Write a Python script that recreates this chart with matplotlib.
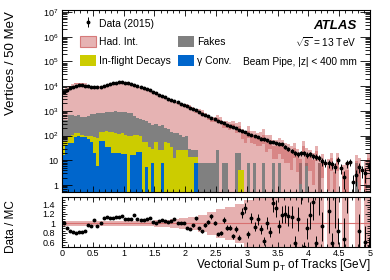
import numpy as np
import matplotlib
matplotlib.use("Agg")
import matplotlib.pyplot as plt
from matplotlib.patches import Patch
from matplotlib.ticker import (MultipleLocator, FixedLocator, LogLocator,
                               FuncFormatter, NullFormatter)

plt.rcParams['font.family'] = 'Liberation Sans'
plt.rcParams['mathtext.fontset'] = 'custom'
plt.rcParams['mathtext.rm'] = 'Liberation Sans'
plt.rcParams['mathtext.it'] = 'Liberation Sans:italic'
plt.rcParams['mathtext.bf'] = 'Liberation Sans:bold'

# 100 bins of 50 MeV, 0 - 5 GeV
bin_edges = np.round(np.arange(0, 5.0001, 0.05), 3)

data = [5900, 7100, 8300, 9300, 10200, 10700, 10700, 10500, 10000, 9600,
        9300, 9100, 9300, 10200, 11500, 12600, 13500, 14100, 14500, 14500,
        14100, 13500, 12600, 11500, 10500, 9600, 8500, 7600, 6800, 5900,
        5200, 4600, 4100, 3550, 3100, 2750, 2450, 2200, 1950, 1780,
        1550, 1350, 1170, 1050, 890, 780, 690, 600, 525, 470,
        400, 355, 315, 275, 245, 215, 195, 175, 155, 138,
        120, 110, 96, 90, 76, 70, 64, 57, 56, 50,
        47, 45, 36, 30, 24, 19, 18, 20, 19, 17,
        18, 15, 14, 13, 9, 8, 7.6, 7, 5.5, 10,
        5, 2.2, 7.6, 8.7, 1.3, 2.5, 5.5, 4, 3, 6]

mc_total = [5840, 7800, 9900, 11300, 12900, 13000, 13200, 12400, 10400, 10100,
            8600, 9600, 9300, 9100, 10100, 11250, 12050, 12500, 12800, 12600,
            12800, 12300, 11600, 9800, 9550, 8970, 7940, 6970, 6070, 5670,
            5150, 4340, 3800, 3350, 2980, 2640, 2230, 2180, 1930, 1760,
            1720, 1520, 1220, 946, 990, 930, 710, 577, 457, 465,
            520, 444, 292, 302, 269, 295, 219, 250, 127, 104,
            156, 99, 103, 83, 87, 111, 63, 69, 39, 38,
            50, 38, 30, 26, 21, 32, 16.5, 11, 38, 19,
            15.4, 10.3, 24, 8, 9.6, 0, 6.0, 12, 3.5, 11.9,
            0, 3.3, 4, 0, 0, 9, 6.5, 0, 5, 12]

fakes = [370, 380, 590, 570, 526, 556, 485, 495, 555, 645,
         650, 720, 660, 705, 780, 790, 755, 825, 810, 775,
         770, 700, 700, 490, 420, 350, 374, 324, 285, 250,
         244, 224, 234, 144, 130, 105, 113, 99, 84, 64,
         74, 16, 12, 12, 8, 7.6, 7.6, 7.6, 7.6, 7.6,
         26, 0, 7.6, 7.6, 0, 0, 20, 16, 0, 0,
         7.6, 0, 7.6, 0, 0, 7.6, 0, 0, 7.6, 0,
         7.6, 0, 0, 0, 0, 0, 0, 7.6, 0, 7.6,
         0, 0, 0, 7.6, 0, 0, 0, 0, 0, 0,
         0, 0, 0, 0, 0, 7.6, 0, 0, 0, 0]

decays = [44, 20, 40, 60, 39, 29, 15, 10, 25, 40,
          71, 74, 80, 85, 115, 105, 125, 105, 101, 107,
          92, 100, 84, 94, 83, 78, 56, 50, 35, 22,
          56, 26, 18, 56, 50, 35, 12, 26, 26, 26,
          26, 14, 14, 6, 0, 0, 0, 0, 0, 0,
          0, 0, 0, 0, 0, 0, 0, 4, 4, 0] + [0] * 40

conv = [16, 40, 50, 50, 85, 95, 90, 85, 70, 55,
        19, 6, 60, 60, 35, 35, 20, 20, 19, 18,
        18, 0, 16, 16, 22, 22, 0, 5.5, 0, 7.6,
        0, 0, 7.6, 0, 0, 0, 0, 0, 0, 0,
        0, 0, 0, 7.8, 0, 0, 0, 0, 0, 0] + [0] * 50

mc_rel_err = [.05, .05, .05, .05, .05, .045, .045, .045, .045, .045,
              .045, .045, .045, .045, .045, .045, .045, .045, .045, .045,
              .05, .05, .05, .05, .05, .06, .06, .06, .06, .06,
              .07, .07, .07, .07, .07, .09, .09, .09, .11, .11,
              .11, .14, .14, .14, .18, .18, .18, .24, .24, .24,
              .30, .30, .30, .35, .35, .35, .42, .42, .42, .50,
              .50, .50, .55, .55, .55, .60, .65, .60, .70, .70,
              .65, .70, .75, .70, .80, .60, .80, .90, .55, .70,
              .75, .90, .60, .95, .80, 0, .90, .70, 1.0, .70,
              0, 1.0, 1.0, 0, 0, .85, .90, 0, 1.0, .70]

c_had = '#e6b3b3'
c_had_edge = '#d67a7a'
c_fake = '#808080'
c_dec = '#cccc00'
c_conv = '#0066cc'
c_band = '#c85050'

fig = plt.figure(figsize=(3.9, 2.8), dpi=100)
ax = fig.add_axes([0.159, 0.314, 0.790, 0.650])
ax2 = fig.add_axes([0.159, 0.119, 0.790, 0.176])

dat = np.array(data, dtype=float)
tot = np.array(mc_total, dtype=float)
cv = np.array(conv, dtype=float)
dec_cum = cv + np.array(decays, dtype=float)
fake_cum = dec_cum + np.array(fakes, dtype=float)
rel = np.array(mc_rel_err, dtype=float)
centers = 0.5 * (bin_edges[1:] + bin_edges[:-1])
tiny = 1e-3


def pos(v):
    return np.where(v > 0, v, tiny)


# stacked MC (cumulative, drawn back to front)
ax.stairs(pos(tot), bin_edges, baseline=tiny, fill=True, color=c_had, lw=0)
ax.stairs(pos(fake_cum), bin_edges, baseline=tiny, fill=True, color=c_fake, lw=0)
ax.stairs(pos(dec_cum), bin_edges, baseline=tiny, fill=True, color=c_dec, lw=0)
ax.stairs(pos(cv), bin_edges, baseline=tiny, fill=True, color=c_conv, lw=0)

# MC stat. uncertainty
up = pos(tot * (1 + rel))
lo = pos(np.where(tot > 0, tot * (1 - rel), tiny))
up = np.where(tot > 0, up, tiny)
ax.stairs(up, bin_edges, baseline=lo, fill=True, color=c_band, alpha=0.45, lw=0)

h_data = ax.errorbar(centers, dat, yerr=np.sqrt(dat), fmt='o', ms=1.8,
                     color='k', elinewidth=0.7, capsize=0, zorder=5)

ax.set_yscale('log')
ax.set_xlim(0, 5)
ax.set_ylim(0.52, 1.2e7)
ax.yaxis.set_major_locator(FixedLocator([1, 10, 1e2, 1e3, 1e4, 1e5, 1e6, 1e7]))
ax.yaxis.set_minor_locator(LogLocator(base=10, subs=np.arange(2, 10), numticks=20))
ax.yaxis.set_minor_formatter(NullFormatter())


def log_fmt(v, p):
    n = int(round(np.log10(v)))
    if n == 0:
        return '1'
    if n == 1:
        return '10'
    return r'$10^{%d}$' % n


ax.yaxis.set_major_formatter(FuncFormatter(log_fmt))
ax.xaxis.set_major_locator(MultipleLocator(0.5))
ax.xaxis.set_minor_locator(MultipleLocator(0.1))
ax.tick_params(which='both', direction='in', top=True, right=True,
               labelbottom=False, labelsize=6.5, width=0.6, pad=2.5)
ax.tick_params(axis='y', which='major', length=7)
ax.tick_params(axis='y', which='minor', length=3.5)
ax.tick_params(axis='x', which='major', length=4)
ax.tick_params(axis='x', which='minor', length=2)
ax.set_ylabel('Vertices / 50 MeV', fontsize=9.5, loc='top')
ax.yaxis.set_label_coords(-0.146, 0.995)

# legend
blank = Patch(facecolor='none', edgecolor='none')
handles = [h_data,
           Patch(facecolor=c_had, edgecolor=c_had_edge, lw=0.8),
           Patch(facecolor=c_dec, edgecolor='none'),
           blank,
           Patch(facecolor=c_fake, edgecolor='none'),
           Patch(facecolor=c_conv, edgecolor='none')]
labels = ['Data (2015)', 'Had. Int.', 'In-flight Decays', '', 'Fakes', 'γ Conv.']
ax.legend(handles, labels, ncol=2, loc='upper left', bbox_to_anchor=(0.058, 0.96),
          frameon=False, fontsize=7.5, handlelength=1.55, handleheight=1.3,
          handletextpad=0.25, columnspacing=0.75, labelspacing=0.7,
          borderpad=0, borderaxespad=0)

ax.text(0.955, 0.896, 'ATLAS', transform=ax.transAxes, ha='right', va='baseline',
        fontsize=9.5, fontweight='bold', fontstyle='italic')
ax.text(0.955, 0.797, r'$\sqrt{s}$ = 13 TeV', transform=ax.transAxes, ha='right',
        va='baseline', fontsize=7.3)
ax.text(0.958, 0.70, 'Beam Pipe, |z| < 400 mm', transform=ax.transAxes, ha='right',
        va='baseline', fontsize=7.3)

# ratio panel
has_mc = tot > 0
r_up = np.where(has_mc, 1 + rel, 1.0)
r_lo = np.where(has_mc, 1 - rel, 1.0)
ax2.stairs(r_up, bin_edges, baseline=r_lo, fill=True, color=c_band, alpha=0.45, lw=0)
ax2.axhline(1.0, color='#d87070', lw=0.8)
ratio = dat[has_mc] / tot[has_mc]
ratio_err = np.sqrt(dat[has_mc]) / tot[has_mc]
ax2.errorbar(centers[has_mc], ratio, yerr=ratio_err, fmt='o', ms=1.8, color='k',
             elinewidth=0.7, capsize=0, zorder=5)

ax2.set_xlim(0, 5)
ax2.set_ylim(0.51, 1.55)
ax2.yaxis.set_major_locator(FixedLocator([0.6, 0.8, 1.0, 1.2, 1.4]))
ax2.yaxis.set_minor_locator(MultipleLocator(0.05))
ax2.xaxis.set_major_locator(MultipleLocator(0.5))
ax2.xaxis.set_minor_locator(MultipleLocator(0.1))
fmt_g = FuncFormatter(lambda v, p: '%g' % round(v, 2))
ax2.xaxis.set_major_formatter(fmt_g)
ax2.yaxis.set_major_formatter(fmt_g)
ax2.tick_params(which='both', direction='in', top=True, right=True,
                labelsize=6.5, width=0.6)
ax2.tick_params(axis='y', which='major', length=3.5, pad=5)
ax2.tick_params(axis='y', which='minor', length=2)
ax2.tick_params(axis='x', which='major', length=3.6, pad=1.5)
ax2.tick_params(axis='x', which='minor', length=2)
ax2.set_ylabel('Data / MC', fontsize=8.5, loc='top')
ax2.yaxis.set_label_coords(-0.146, 0.94)
ax2.set_xlabel(r'Vectorial Sum p$_{\mathrm{T}}$ of Tracks [GeV]', fontsize=8.5, loc='right')
ax2.xaxis.set_label_coords(1.0, -0.2)

for a in (ax, ax2):
    for s in a.spines.values():
        s.set_linewidth(0.8)

fig.savefig('out.png', dpi=100)
